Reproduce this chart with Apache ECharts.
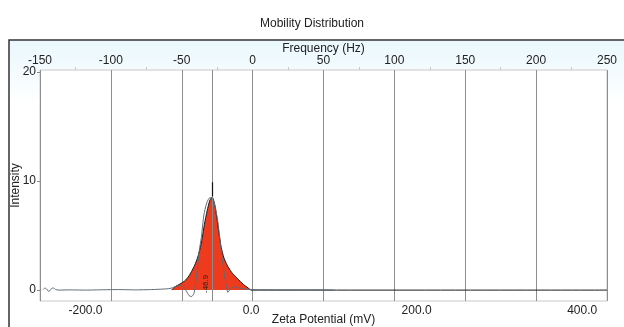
<!DOCTYPE html>
<html lang="en">
<head>
    <meta charset="UTF-8">
    <title>Mobility Distribution</title>
    <style>
        html,body{margin:0;padding:0;background:#fff;}
        #main{width:624px;height:327px;}
    </style>
</head>
<body>
    <div id="main"></div>
    <script src="https://cdn.jsdelivr.net/npm/echarts@6/dist/echarts.min.js"></script>
    <script>
        // raw measured curve (zeta mV / intensity)
        var rawZeta = [-251,-249,-247,-245,-243,-241,-239,-236,-232,-220,
                       -200,-180,-160,-140,-120,-105,-98,-92,-86,-82,
                       -78,-75,-72,-69,-66,-63,-60,-57,-54,-51,
                       -48,-46,-43,-40,-37,-34,-31,-28,-25,-21,
                       -15,-8,0,20,50,80,100];
        var rawInt  = [0.05,0.2,0.1,-0.1,-0.05,0.15,0.2,0.05,0,0.02,
                       0,0.03,0.05,0.02,0.05,0.1,0.15,0.3,0.45,0.3,
                       -0.1,-0.5,-0.6,-0.3,1.2,3.4,4.9,6.9,7.9,8.4,
                       8.5,8.3,7.5,6.2,4.2,2.4,0.8,-0.2,0.1,0.3,
                       0.2,0.1,0.05,0.03,0.02,0.02,0.01];
        // fitted peak (red area)
        var fitZeta = [-96,-92,-86,-80,-76,-72,-68,-65,-62,-59,
                       -56.5,-53,-50,-47,-44,-41.5,-39,-36,-33,-29,
                       -25,-21.5,-17,-13,-9,-5,-2,0,430];
        var fitInt  = [0,0.3,0.55,0.85,1.2,1.7,2.3,2.9,3.67,4.8,
                       6.0,7.3,8.2,8.55,7.9,6.7,5.3,3.9,3.0,2.3,
                       1.8,1.45,1.1,0.8,0.5,0.28,0.1,0,0];
        var peakZeta = -47;
        var peakLabel = '-46.9';
        var peakTick = [8.6, 9.9];
        var zetaLabels = [-200, 0, 200, 400];
        var intensityLabels = [0, 10, 20];

        function pairs(xs, ys){
            var out = [];
            for(var i=0;i<xs.length;i++){ out.push([xs[i], ys[i]]); }
            return out;
        }

        var font = 'Liberation Sans, Arial, sans-serif';
        var chart = echarts.init(document.getElementById('main'));
        chart.setOption({
            animation:false,
            backgroundColor:'#fff',
            graphic:[{
                type:'rect',
                z:-10,
                shape:{x:9,y:40,width:640,height:320},
                style:{
                    fill:new echarts.graphic.LinearGradient(0,0,0,1,[
                        {offset:0,color:'#e9f8fd'},
                        {offset:0.12,color:'#f6fcfe'},
                        {offset:0.2,color:'#ffffff'},
                        {offset:1,color:'#ffffff'}
                    ]),
                    stroke:'#333',
                    lineWidth:1.5
                }
            }],
            title:{
                text:'Mobility Distribution',
                left:'center',
                top:13,
                textStyle:{fontFamily:font,fontSize:12,fontWeight:'normal',color:'#222'}
            },
            grid:{
                left:40,right:17,top:70,bottom:26,
                outerBoundsMode:'none',
                containLabel:false,
                show:true,
                borderColor:'#c8c8c8',
                borderWidth:1,
                backgroundColor:'#fff'
            },
            xAxis:[{
                type:'value',
                position:'bottom',
                min:-255,max:430,
                name:'Zeta Potential (mV)',
                nameLocation:'middle',
                nameGap:13,
                nameMoveOverlap:false,
                nameTextStyle:{fontFamily:font,fontSize:12,color:'#222'},
                axisLine:{show:false,onZero:false},
                axisTick:{show:false},
                splitLine:{show:false},
                axisLabel:{
                    customValues:zetaLabels,
                    margin:4,
                    fontFamily:font,fontSize:12,color:'#222',
                    formatter:function(v){return v.toFixed(1);}
                }
            },{
                type:'value',
                position:'top',
                min:-150,max:250,interval:50,
                name:'Frequency (Hz)',
                nameLocation:'middle',
                nameGap:15,
                nameMoveOverlap:false,
                nameTextStyle:{fontFamily:font,fontSize:12,color:'#222'},
                axisLine:{show:false,onZero:false},
                axisTick:{show:false},
                minorTick:{show:true,splitNumber:2,length:3,lineStyle:{color:'#c8c8c8'}},
                splitLine:{show:true,lineStyle:{color:'#8e8e8e',width:1}},
                axisLabel:{margin:3,fontFamily:font,fontSize:12,color:'#222'}
            }],
            yAxis:{
                type:'value',
                min:-1,max:20.2,
                name:'Intensity',
                nameLocation:'middle',
                nameGap:18,
                nameMoveOverlap:false,
                nameTextStyle:{fontFamily:font,fontSize:12,color:'#222'},
                axisLine:{show:false,onZero:false},
                axisTick:{show:true,customValues:intensityLabels,length:3,lineStyle:{color:'#888'}},
                splitLine:{show:false},
                axisLabel:{customValues:intensityLabels,margin:4,fontFamily:font,fontSize:12,color:'#222'}
            },
            series:[{
                type:'line',
                xAxisIndex:0,
                data:pairs(fitZeta, fitInt),
                symbol:'none',
                smooth:0.2,
                lineStyle:{color:'#1a1a1a',width:1},
                areaStyle:{color:'#ef3b1d',opacity:1},
                z:2,
                markLine:{
                    silent:true,
                    symbol:'none',
                    animation:false,
                    data:[
                        {
                            xAxis:peakZeta,
                            lineStyle:{color:'#8a8a8a',width:1,type:'solid'},
                            label:{
                                show:true,
                                formatter:peakLabel,
                                position:'insideStartTop',
                                distance:[8,2],
                                fontFamily:font,fontSize:8,color:'#222'
                            }
                        },
                        [
                            {coord:[peakZeta,peakTick[0]],lineStyle:{color:'#111',width:1.2,type:'solid'},label:{show:false}},
                            {coord:[peakZeta,peakTick[1]]}
                        ]
                    ]
                }
            },{
                type:'line',
                xAxisIndex:0,
                data:pairs(rawZeta, rawInt),
                symbol:'none',
                smooth:0.2,
                lineStyle:{color:'#5f6b78',width:1},
                z:3
            }]
        });
    </script>
</body>
</html>
